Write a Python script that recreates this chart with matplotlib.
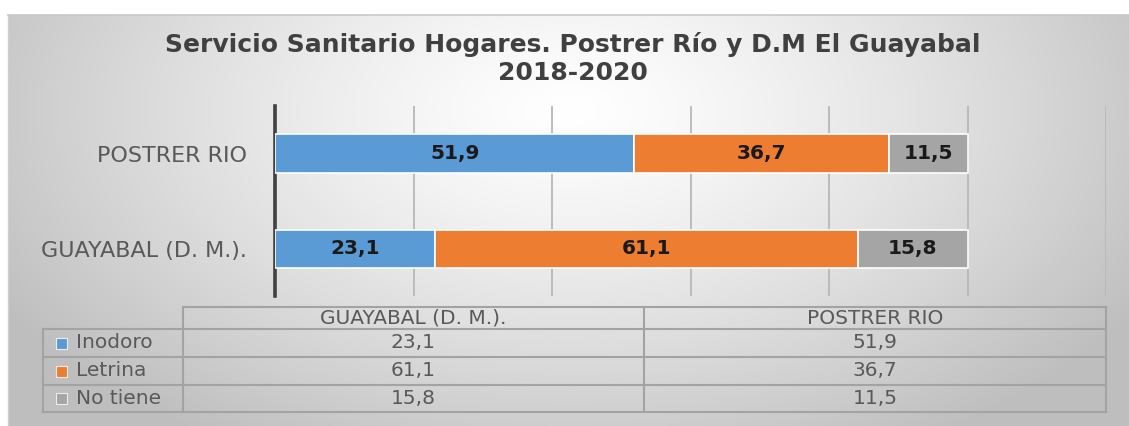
import numpy as np
import matplotlib
matplotlib.use("Agg")
import matplotlib.pyplot as plt
from matplotlib.lines import Line2D
from matplotlib.patches import Rectangle

# ---------------- data ----------------
categories = ["GUAYABAL (D. M.).", "POSTRER RIO"]
series_names = ["Inodoro", "Letrina", "No tiene"]
inodoro = [23.1, 51.9]
letrina = [61.1, 36.7]
no_tiene = [15.8, 11.5]
title_lines = ["Servicio Sanitario Hogares. Postrer Río y D.M El Guayabal", "2018-2020"]
x_ticks = [0, 20, 40, 60, 80, 100, 120]

colors = ["#5B9BD5", "#ED7D31", "#A5A5A5"]
FONT = "DejaVu Sans"
W, H = 1129, 426

fig = plt.figure(figsize=(W / 100, H / 100), dpi=100)
fig.patch.set_facecolor("white")


def fx(px):
    return px / W


def fy(py):
    return 1 - py / H


# ---------------- background gradient ----------------
bx0, by0, bx1, by1 = 8, 15, 1129, 426
bg = fig.add_axes([fx(bx0), fy(by1), fx(bx1 - bx0), (by1 - by0) / H], zorder=-10)
xx, yy = np.meshgrid(np.arange(bx0, bx1), np.arange(by0, by1))
cx, cy = 570, 110
r = np.sqrt(((xx - cx) / 560.0) ** 2 + ((yy - cy) / 330.0) ** 2)
val = np.clip(255 - 52 * r ** 1.3, 190, 255) / 255.0
bg.imshow(np.dstack([val, val, val]), aspect="auto", interpolation="bilinear",
          extent=[0, 1, 0, 1])
bg.set_axis_off()
fig.add_artist(Line2D([fx(bx0), fx(bx1)], [fy(by0), fy(by0)], color="#c8c8c8", lw=1.2))
fig.add_artist(Line2D([fx(bx0), fx(bx0)], [fy(by0), fy(by1)], color="#cfcfcf", lw=1.0))

# ---------------- title ----------------
for line, yb in zip(title_lines, [52, 80]):
    fig.text(fx(573), fy(yb), line, ha="center", va="baseline", fontsize=18,
             color="#404040", family=FONT, fontweight="bold")

# ---------------- bar plot ----------------
ax_l, ax_r, ax_t, ax_b = 275, 1106, 106, 296
ax = fig.add_axes([fx(ax_l), fy(ax_b), fx(ax_r - ax_l), (ax_b - ax_t) / H])
ax.set_facecolor("none")
ypos = np.arange(len(categories))
left = np.zeros(len(categories))
for name, vals, c in zip(series_names, [inodoro, letrina, no_tiene], colors):
    bars = ax.barh(ypos, vals, left=left, height=0.4, color=c,
                   edgecolor="white", linewidth=1.2, zorder=3)
    for b, v in zip(bars, vals):
        ax.text(b.get_x() + b.get_width() / 2, b.get_y() + b.get_height() / 2,
                f"{v:.1f}".replace(".", ","), ha="center", va="center",
                fontsize=14.5, fontweight="bold", color="#1a1a1a", family=FONT, zorder=4)
    left = left + np.array(vals)

ax.set_xlim(x_ticks[0], x_ticks[-1])
ax.set_ylim(-0.5, len(categories) - 0.5)
ax.set_xticks(x_ticks)
ax.xaxis.grid(True, color="#b8b8b8", lw=1.3, zorder=0)
ax.tick_params(axis="x", length=0, labelbottom=False)
ax.set_yticks(ypos)
ax.set_yticklabels(categories, fontsize=16, color="#595959", family=FONT)
ax.tick_params(axis="y", length=0, pad=20)
for s in ["top", "right", "bottom"]:
    ax.spines[s].set_visible(False)
ax.spines["left"].set_color("#404040")
ax.spines["left"].set_linewidth(2.6)
ax.set_axisbelow(True)

# ---------------- data table ----------------
tl, tc1, tc2, tr = 43, 183, 644, 1106
row_y = [307, 329, 357, 385, 412]
lc = "#a3a3a3"
lw = 1.5


def hline(x0, x1, y):
    fig.add_artist(Line2D([fx(x0), fx(x1)], [fy(y), fy(y)], color=lc, lw=lw))


def vline(x, y0, y1):
    fig.add_artist(Line2D([fx(x), fx(x)], [fy(y0), fy(y1)], color=lc, lw=lw))


hline(tc1, tr, row_y[0])
for y in row_y[1:]:
    hline(tl, tr, y)
vline(tl, row_y[1], row_y[-1])
vline(tc1, row_y[0], row_y[-1])
vline(tc2, row_y[0], row_y[-1])
vline(tr, row_y[0], row_y[-1])

tcol = "#595959"
tfs = 14.5
col_centers = [(tc1 + tc2) / 2, (tc2 + tr) / 2]
hy = (row_y[0] + row_y[1]) / 2
for cxp, name in zip(col_centers, categories):
    fig.text(fx(cxp), fy(hy), name, ha="center", va="center", fontsize=tfs,
             color=tcol, family=FONT)

for i, (name, vals, c) in enumerate(zip(series_names, [inodoro, letrina, no_tiene], colors)):
    ymid = (row_y[i + 1] + row_y[i + 2]) / 2
    fig.add_artist(Rectangle((fx(56), fy(ymid + 5.5)), fx(11), 11 / H, facecolor=c,
                             edgecolor="#ececec", lw=0.8))
    fig.text(fx(76), fy(ymid), name, ha="left", va="center", fontsize=tfs,
             color=tcol, family=FONT)
    for cxp, v in zip(col_centers, vals):
        fig.text(fx(cxp), fy(ymid), f"{v:.1f}".replace(".", ","), ha="center",
                 va="center", fontsize=tfs, color=tcol, family=FONT)

fig.savefig("out.png", dpi=100)
